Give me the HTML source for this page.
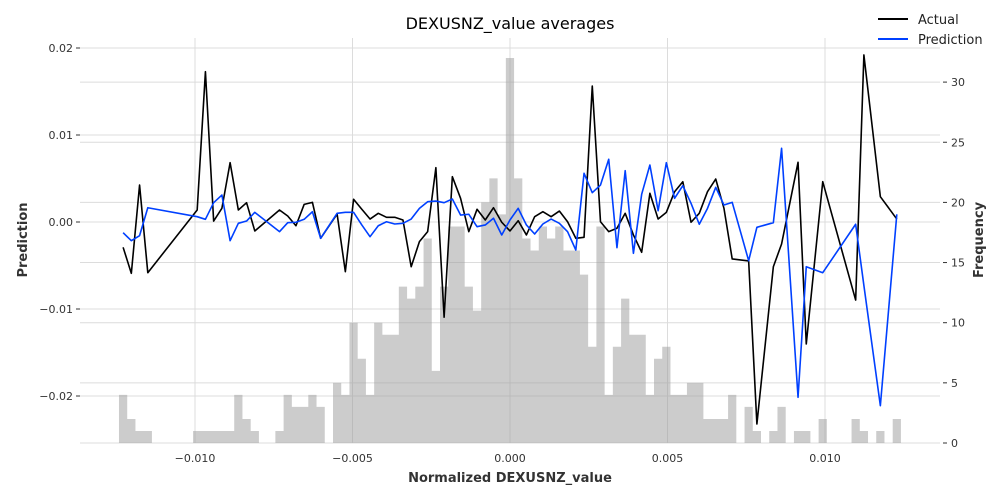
<!DOCTYPE html>
<html><head><meta charset="utf-8"><style>
html,body{margin:0;padding:0;background:#fff;}
svg{display:block;font-family:"DejaVu Sans","Liberation Sans",sans-serif;}
</style></head><body>
<svg id="chart" width="1000" height="500" viewBox="0 0 1000 500" xmlns="http://www.w3.org/2000/svg">
<text x="510" y="29" font-size="16" text-anchor="middle" fill="#000">DEXUSNZ_value averages</text>
<g id="grid"></g>
<g id="bars"></g>
<g id="lines"></g>
<g id="axes"></g>
<text x="510" y="482" font-size="13" font-weight="bold" text-anchor="middle" fill="#333">Normalized DEXUSNZ_value</text>
<text transform="translate(27,240) rotate(-90)" font-size="13" font-weight="bold" text-anchor="middle" fill="#333">Prediction</text>
<text transform="translate(983,240) rotate(-90)" font-size="13" font-weight="bold" text-anchor="middle" fill="#333">Frequency</text>
<g>
<line x1="878" y1="19" x2="908" y2="19" stroke="#000" stroke-width="2"/>
<text x="918" y="24" font-size="13" fill="#222">Actual</text>
<line x1="878" y1="39" x2="908" y2="39" stroke="#0040ff" stroke-width="2"/>
<text x="918" y="44" font-size="13" fill="#222">Prediction</text>
</g>
</svg>
<script>
const binStart = -0.012413;
const binWidth = 0.0002613;
const counts = [4,2,1,1,0,0,0,0,0,1,1,1,1,1,4,2,1,0,0,1,4,3,3,4,3,0,5,4,10,7,4,10,9,9,13,12,13,17,6,13,18,18,13,11,20,22,19,32,22,17,16,18,17,18,16,16,14,8,18,4,8,12,9,9,4,7,8,4,4,5,5,2,2,2,4,0,3,1,0,1,3,0,1,1,0,2,0,0,0,2,1,0,1,0,2];
// values in units of 1e-3, null where bin is empty
const actual = [-2.91,-5.90,4.25,-5.83,null,null,null,null,null,1.38,17.28,0.11,1.57,6.82,1.38,2.22,-1.03,null,null,1.38,0.69,-0.43,2.03,2.26,-1.87,null,0.92,-5.71,2.61,1.46,0.34,1.0,0.54,0.54,0.23,-5.14,-2.26,-1.11,6.24,-10.95,5.21,2.72,-1.11,1.46,0.23,1.64,-0.03,-1.03,0.15,-1.49,0.61,1.18,0.61,1.26,0.03,-1.87,-1.76,15.63,0.03,-1.11,-0.72,1.0,-1.49,-3.48,3.30,0.34,1.11,3.48,4.63,-0.03,1.0,3.48,4.94,1.57,-4.25,null,-4.48,-23.22,null,-5.14,-2.53,null,6.86,-14.02,null,4.63,null,null,null,-8.97,19.20,null,2.91,null,0.34];
const prediction = [-1.23,-2.15,-1.57,1.64,null,null,null,null,null,0.61,0.31,2.22,3.10,-2.15,-0.15,0.11,1.11,null,null,-1.11,-0.08,-0.03,0.31,1.18,-1.87,null,1.0,1.11,1.11,-0.34,-1.69,-0.43,0.03,-0.23,-0.15,0.34,1.57,2.33,2.41,2.22,2.64,0.80,0.89,-0.54,-0.34,0.43,-1.49,0.23,1.57,-0.34,-1.38,-0.23,0.34,-0.15,-1.11,-3.22,5.60,3.37,4.25,7.21,-2.95,5.90,-3.60,3.18,6.55,1.30,6.82,2.72,4.17,2.15,-0.26,1.57,3.99,1.95,2.26,null,-4.45,-0.61,null,-0.08,8.47,null,-20.15,-5.14,null,-5.83,null,null,null,-0.26,-7.3,null,-21.11,null,0.89];
const xTicks = [-0.010,-0.005,0.000,0.005,0.010];
const xTickLabels = ["\u22120.010","\u22120.005","0.000","0.005","0.010"];
const yTicks = [-0.02,-0.01,0.00,0.01,0.02];
const yTickLabels = ["\u22120.02","\u22120.01","0.00","0.01","0.02"];
const y2Ticks = [0,5,10,15,20,25,30];

const L=80,R=940,T=38,B=443;
const xs = v => 510 + v*31500;
const ys = v => 222 - v*8700;
const y2s = c => B - c*12.03;
const NS="http://www.w3.org/2000/svg";
function mk(tag, attrs, parent){const e=document.createElementNS(NS,tag);for(const k in attrs)e.setAttribute(k,attrs[k]);parent.appendChild(e);return e;}
const grid=document.getElementById('grid'),bars=document.getElementById('bars'),lines=document.getElementById('lines'),axes=document.getElementById('axes');

xTicks.forEach((t,i)=>{
  const g=mk('line',{x1:xs(t),x2:xs(t),y1:T,y2:B,stroke:'#dcdcdc','stroke-width':1},grid);
  
  
  const tx=mk('text',{x:xs(t),y:462,'font-size':11,'text-anchor':'middle',fill:'#333'},axes);
  tx.textContent=xTickLabels[i];
  
  
});
yTicks.forEach((t,i)=>{
  const g=mk('line',{x1:L,x2:R,y1:ys(t),y2:ys(t),stroke:'#dcdcdc','stroke-width':1},grid);
  
  
  const tk=mk('line',{x1:L-4,x2:L,y1:ys(t),y2:ys(t),stroke:'#333','stroke-width':1},axes);
  
  
  const tx=mk('text',{x:L-7,y:ys(t)+4,'font-size':11,'text-anchor':'end',fill:'#333'},axes);
  tx.textContent=yTickLabels[i];
  
  
});
y2Ticks.forEach(t=>{
  const g=mk('line',{x1:L,x2:R,y1:y2s(t),y2:y2s(t),stroke:'#dcdcdc','stroke-width':1},grid);
  
  
  const tk=mk('line',{x1:R+3,x2:R+7,y1:y2s(t),y2:y2s(t),stroke:'#333','stroke-width':1},axes);
  
  
  const tx=mk('text',{x:R+11,y:y2s(t)+4,'font-size':11,'text-anchor':'start',fill:'#333'},axes);
  tx.textContent=String(t);
  
  
});
let bd='';
counts.forEach((c,i)=>{
  if(!c) return;
  const x0=xs(binStart+i*binWidth), x1=xs(binStart+(i+1)*binWidth), y=y2s(c);
  bd+='M'+x0.toFixed(2)+','+B+'V'+y.toFixed(2)+'H'+x1.toFixed(2)+'V'+B+'Z';
});
const hp=mk('path',{d:bd,fill:'#999','fill-opacity':0.5},bars);


function path(arr,color,name){
  let d='';
  arr.forEach((v,i)=>{
    if(v===null) return;
    const x=xs(binStart+(i+0.5)*binWidth), y=ys(v/1000);
    d+=(d?'L':'M')+x.toFixed(2)+','+y.toFixed(2);
  });
  const p=mk('path',{d:d,fill:'none',stroke:color,'stroke-width':1.6,'stroke-linejoin':'round'},lines);
  
  
}
path(actual,'#000','actual-line');
path(prediction,'#0040ff','prediction-line');
</script>
</body></html>
